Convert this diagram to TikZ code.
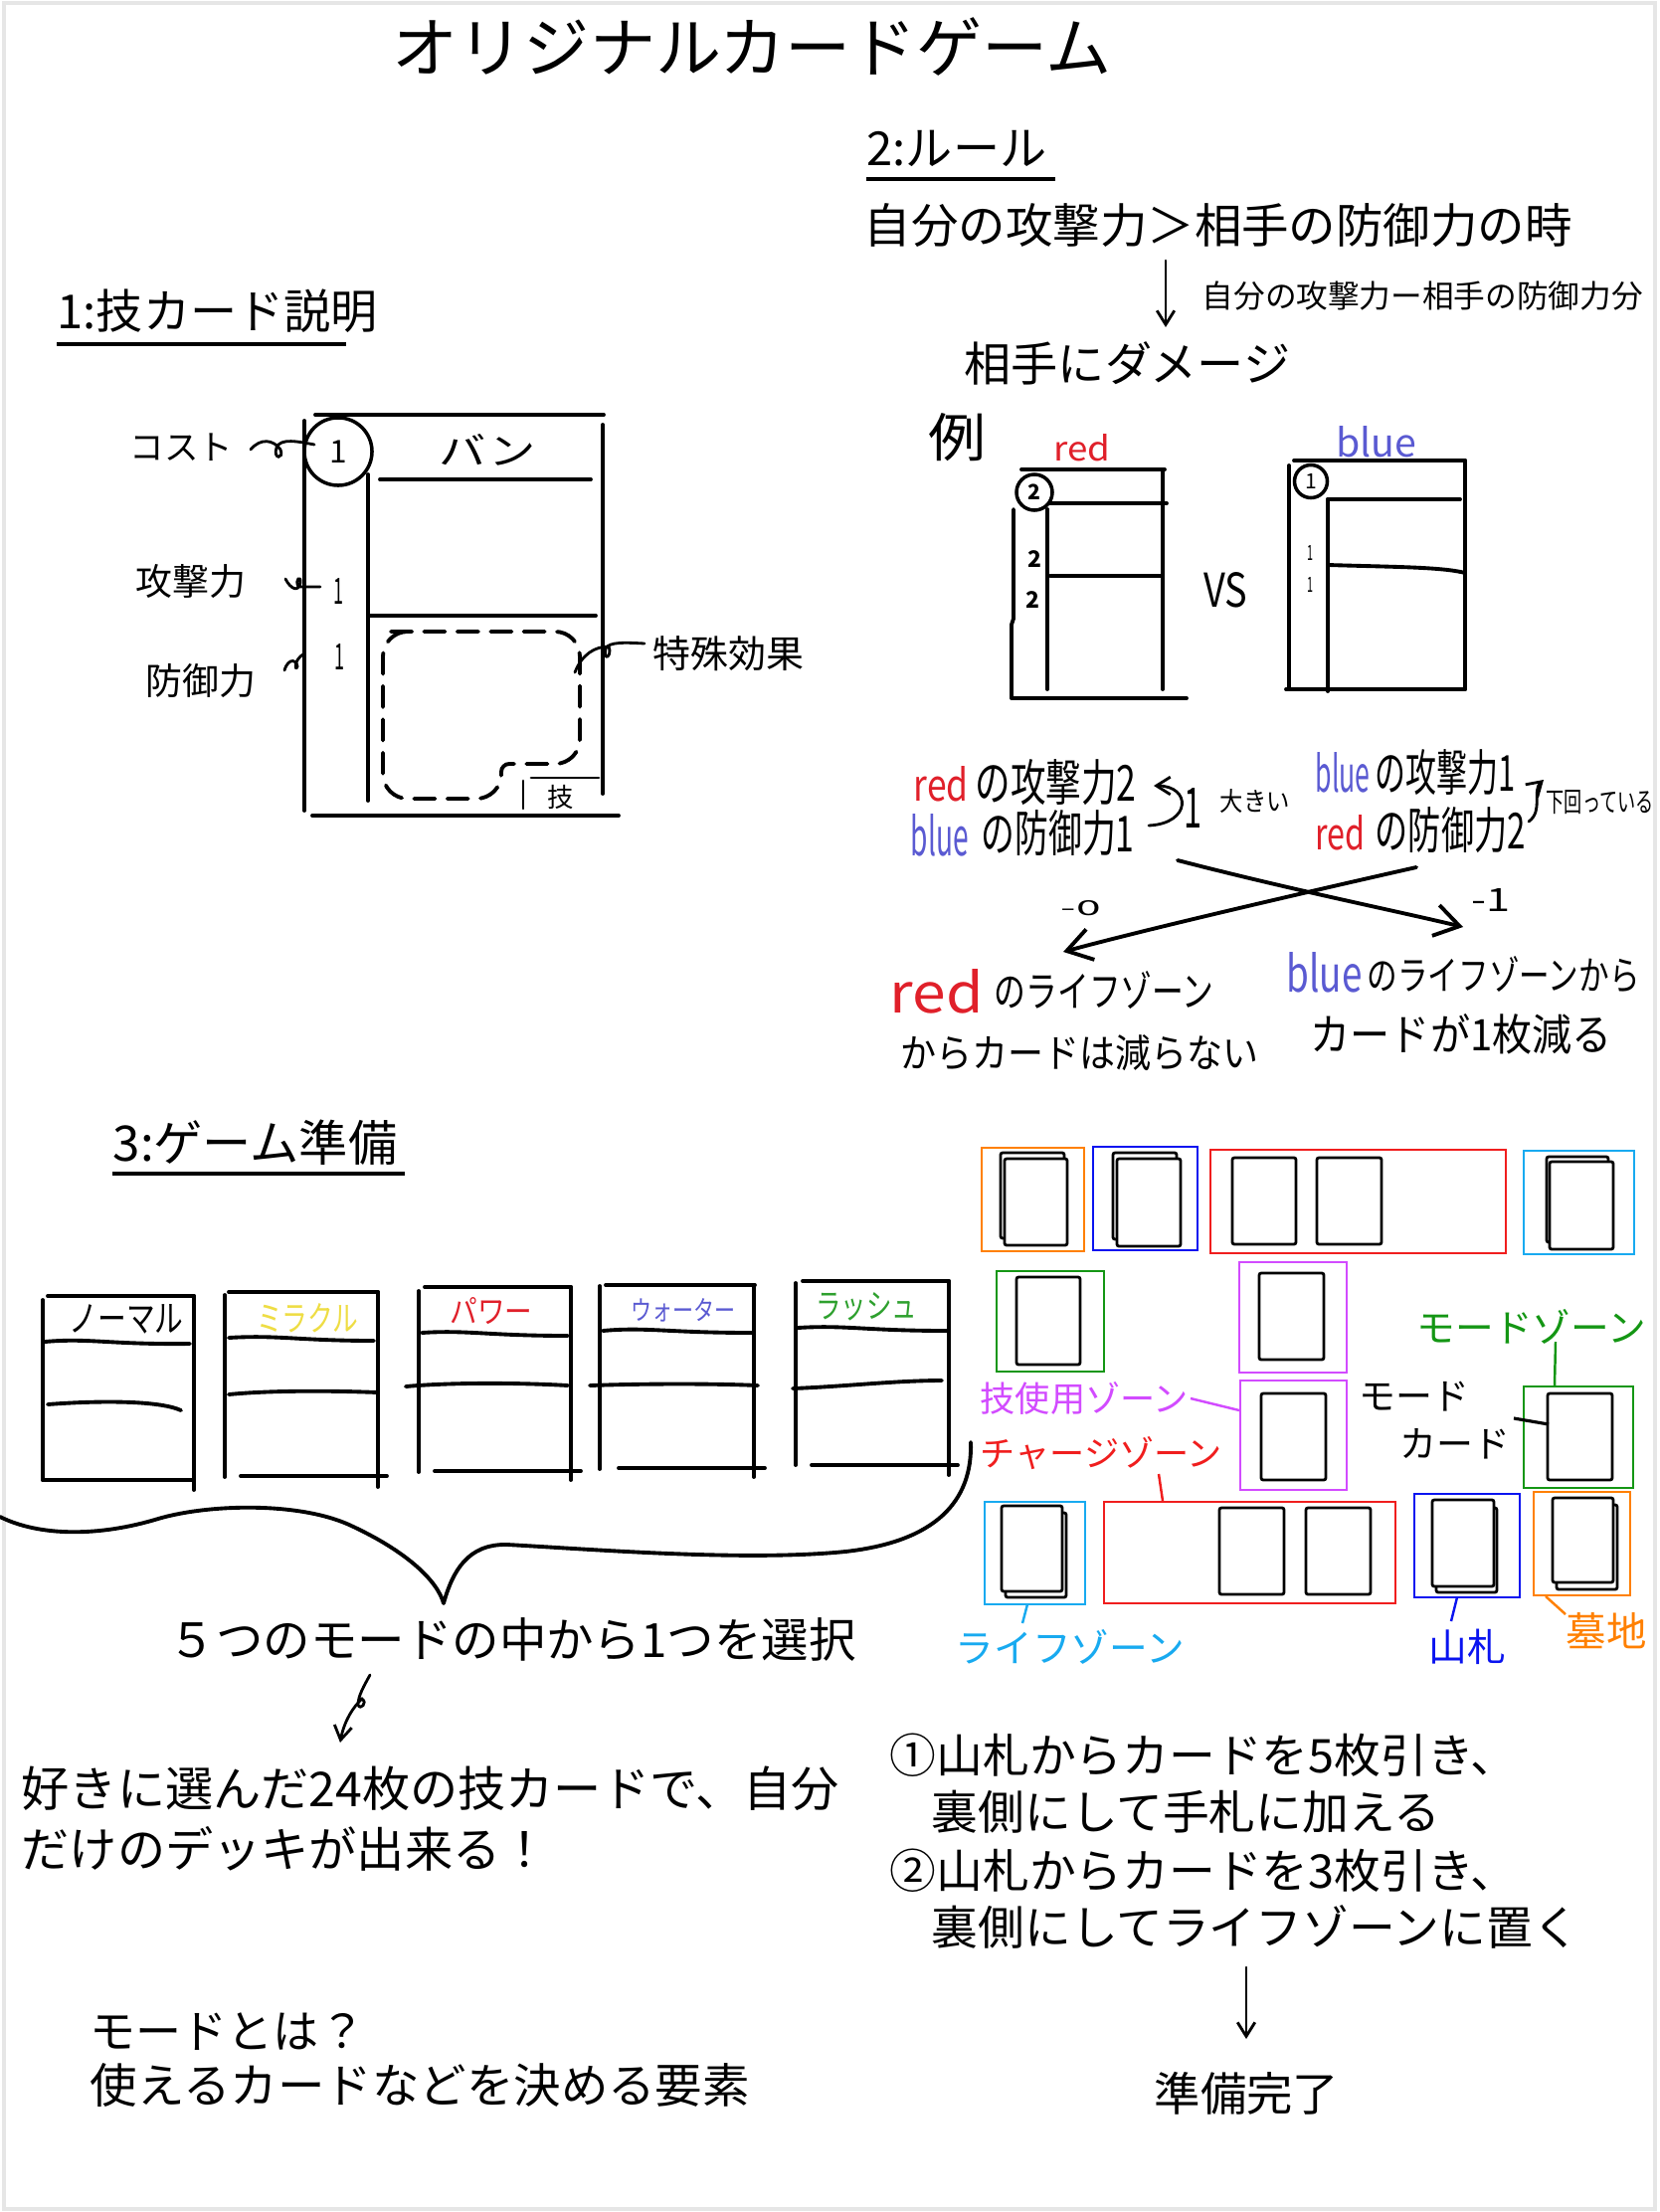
\documentclass[tikz,border=0pt]{standalone}
\usepackage{fontspec}
\setmainfont{Noto Sans CJK JP}
\usetikzlibrary{arrows.meta}
\newdimen\pxu \pxu=0.01cm
\newcommand\fsz[1]{\fontsize{#1}{#1}\selectfont}
\newcommand\rb[3]{\resizebox{#1\pxu}{#2\pxu}{#3}}
\definecolor{zorange}{HTML}{FF8000}
\definecolor{zblue}{HTML}{0A14F0}
\definecolor{zred}{HTML}{F01E1E}
\definecolor{zsky}{HTML}{18AAF0}
\definecolor{zgreen}{HTML}{149614}
\definecolor{zpurple}{HTML}{D24BFF}
\definecolor{hred}{HTML}{E0202A}
\definecolor{hblue}{HTML}{5A5AD2}
\definecolor{hyel}{HTML}{EEDD44}
\definecolor{hgreen}{HTML}{2EA02E}
\definecolor{framegray}{HTML}{E6E6E6}
\begin{document}
\begin{tikzpicture}[x=0.01cm, y=-0.01cm,
  t/.style={inner sep=0pt, anchor=west},
  tc/.style={inner sep=0pt},
  hl/.style={line width=1.1pt, line cap=round, line join=round},
  thinl/.style={line width=0.8pt, line cap=round},
  zone/.style={line width=0.7pt},
  card/.style={draw=black, fill=white, line width=0.8pt, rounded corners=0.6pt},
  barb/.style={-{Straight Barb[length=7pt,width=9pt]}},
  sbarb/.style={-{Straight Barb[length=4pt,width=5pt]}}]
\path[use as bounding box, fill=white] (0,0) rectangle (1668,2224);
\draw[framegray, line width=1.2pt] (4,3) rectangle (1664,2221);

% ---------- title ----------
\node[t, font=\fsz{18.8pt}] (title) at (394,47) {オリジナルカードゲーム};

% ---------- section 1 ----------
\node[t, font=\fsz{13.4pt}] (h1) at (57,313) {1:技カード説明};
\coordinate (h1a) at (57,346); \coordinate (h1b) at (348,346);
\draw[line width=1.3pt] (h1a) -- (h1b);

\draw[hl] (317,417) -- (607,417);
\draw[hl] (314,820) -- (622,820);
\draw[hl] (306,423) -- (306,815);
\draw[hl] (606,427) -- (606,798);
\draw[hl] (370,477) -- (370,805);
\draw[hl] (382,482) -- (594,482);
\draw[hl] (370,619) -- (599,619);
\node[draw, circle, line width=1pt, minimum size=0.68cm, inner sep=0pt, font=\fsz{9pt}] (cost) at (340,454) {1};
\node[tc] (ban) at (490,452) {\rb{97}{31}{バン}};
\node[tc] (atk1) at (340,594) {\rb{10}{26}{1}};
\node[tc] (def1) at (341,660) {\rb{10}{26}{1}};
\draw[hl, dash pattern=on 6pt off 3.5pt, rounded corners=0.25cm]
  (393,635) -- (583,635) -- (583,768) [rounded corners=0.08cm] -- (504,768) [rounded corners=0.25cm] -- (504,803) -- (385,803) -- (385,635) -- (400,635);
\coordinate (wa) at (526,785); \coordinate (wb) at (526,813);
\draw[thinl] (wa) -- (wb);
\coordinate (wc) at (534,782); \coordinate (wd) at (602,782);
\draw[thinl] (wc) -- (wd);
\node[tc, font=\fsz{7.5pt}] (waza) at (564,801) {技};

\node[t, font=\fsz{9.8pt}] (costl) at (130,450) {コスト};
\node[t, font=\fsz{10.5pt}] (atkl) at (136,585) {攻撃力};
\node[t, font=\fsz{10.5pt}] (defl) at (146,685) {防御力};
\node[t, font=\fsz{10.8pt}] (spl) at (656,657) {特殊効果};
\coordinate (c1) at (252,452); \coordinate (c2) at (316,447);
\draw[thinl] (c1) .. controls (262,440) and (275,442) .. (282,452) .. controls (286,462) and (274,462) .. (278,450) .. controls (282,440) and (300,444) .. (c2);
\coordinate (a1) at (287,582); \coordinate (a2) at (322,590);
\draw[thinl] (a1) .. controls (292,592) and (300,596) .. (302,586) .. controls (303,578) and (296,582) .. (300,590) -- (a2);
\coordinate (d1) at (286,674); \coordinate (d2) at (306,657);
\draw[thinl] (d1) .. controls (290,660) and (300,664) .. (299,670) .. controls (297,676) and (294,664) .. (d2);
\coordinate (s1) at (578,676); \coordinate (s2) at (648,647);
\draw[thinl] (s1) .. controls (585,658) and (598,650) .. (612,650) .. controls (616,660) and (606,666) .. (609,652) .. controls (612,645) and (630,646) .. (s2);

% ---------- section 2 ----------
\node[t, font=\fsz{13.4pt}] (h2) at (871,149) {2:ルール};
\coordinate (h2a) at (871,180); \coordinate (h2b) at (1061,180);
\draw[line width=1.3pt] (h2a) -- (h2b);
\node[t, font=\fsz{13.5pt}] (cond) at (868,227) {自分の攻撃力＞相手の防御力の時};
\coordinate (ar1) at (1172,262); \coordinate (ar2) at (1172,329);
\draw[thinl, sbarb] (ar1) -- (ar2);
\node[t, font=\fsz{9pt}] (calc) at (1208,298) {自分の攻撃力ー相手の防御力分};
\node[t, font=\fsz{13.4pt}] (dmg) at (969,365) {相手にダメージ};

\node[t] (rei) at (933,440) {\rb{58}{44}{例}};
\node[tc, text=hred] (redl) at (1088,450) {\rb{57}{27}{red}};
\node[tc, text=hblue] (bluel) at (1384,444) {\rb{81}{31}{blue}};
\node[tc] (vs) at (1232,593) {\rb{44}{35}{VS}};
% red card
\draw[hl] (1027,472) -- (1171,472);
\draw[hl] (1056,506) -- (1173,506);
\draw[hl] (1169,472) -- (1169,693);
\draw[hl] (1053,512) -- (1053,693);
\draw[hl] (1019,512) -- (1019,622) -- (1017,628) -- (1017,702);
\draw[hl] (1017,702) -- (1193,702);
\draw[hl] (1056,579) -- (1169,579);
\node[draw, circle, line width=1pt, minimum size=0.36cm, inner sep=0pt, font=\fsz{6pt}\bfseries] (rc) at (1040,495) {2};
\node[tc, font=\fsz{6.5pt}\bfseries] (ra) at (1040,562) {2};
\node[tc, font=\fsz{6.5pt}\bfseries] (rd) at (1038,603) {2};
% blue card
\draw[hl] (1301,463) -- (1473,463);
\draw[hl] (1296,468) -- (1296,693);
\draw[hl] (1335,502) -- (1468,502);
\draw[hl] (1335,502) -- (1335,695);
\draw[hl] (1473,463) -- (1473,693);
\draw[hl] (1335,568) .. controls (1400,570) and (1450,570) .. (1473,576);
\draw[hl] (1293,693) -- (1473,693);
\node[draw, circle, line width=1pt, minimum size=0.33cm, inner sep=0pt, font=\fsz{6pt}] (bc) at (1318,484) {1};
\node[tc] (ba) at (1317,556) {\rb{6}{15}{1}};
\node[tc] (bd) at (1317,588) {\rb{6}{15}{1}};

% comparison text
\node[t, text=hred] (r1) at (918,788) {\rb{55}{35}{red}};
\node[t] (r1b) at (980,787) {\rb{162}{42}{の攻撃力2}};
\node[t, text=hblue] (b1) at (915,840) {\rb{58}{42}{blue}};
\node[t] (b1b) at (986,838) {\rb{154}{42}{の防御力1}};
\coordinate (cu1) at (1155,830); \coordinate (cu2) at (1160,790);
\draw[thinl, sbarb] (cu1) .. controls (1198,828) and (1198,790) .. (cu2);
\node[t] (one) at (1190,812) {\rb{18}{40}{1}};
\node[t] (big) at (1226,806) {\rb{70}{22}{大きい}};
\node[t, text=hblue] (b2) at (1322,777) {\rb{55}{40}{blue}};
\node[t] (b2b) at (1382,777) {\rb{141}{42}{の攻撃力1}};
\node[t, text=hred] (r2) at (1322,837) {\rb{50}{35}{red}};
\node[t] (r2b) at (1382,835) {\rb{151}{42}{の防御力2}};
\coordinate (up1) at (1537,826); \coordinate (up2) at (1552,784);
\draw[thinl, sbarb] (up1) .. controls (1552,815) and (1540,795) .. (up2);
\node[t] (low) at (1554,807) {\rb{108}{22}{下回っている}};
\coordinate (xa1) at (1184,865); \coordinate (xa2) at (1471,932);
\coordinate (xb1) at (1424,872); \coordinate (xb2) at (1069,957);
\draw[hl, barb] (xa1) .. controls (1300,895) and (1400,915) .. (xa2);
\draw[hl, barb] (xb1) .. controls (1300,900) and (1150,935) .. (xb2);
\node[t] (m0) at (1066,913) {\rb{40}{15}{-0}};
\node[t] (m1) at (1479,905) {\rb{39}{23}{-1}};
\node[t, text=hred] (r3) at (894,997) {\rb{94}{44}{red}};
\node[t] (r3b) at (999,996) {\rb{221}{36}{のライフゾーン}};
\node[t] (r3c) at (905,1059) {\rb{360}{33}{からカードは減らない}};
\node[t, text=hblue] (b3) at (1293,978) {\rb{76}{40}{blue}};
\node[t] (b3b) at (1374,980) {\rb{274}{34}{のライフゾーンから}};
\node[t] (b3c) at (1317,1040) {\rb{303}{37}{カードが1枚減る}};

% ---------- section 3 ----------
\node[t, font=\fsz{14pt}] (h3) at (113,1149) {3:ゲーム準備};
\coordinate (h3a) at (113,1180); \coordinate (h3b) at (407,1180);
\draw[line width=1.3pt] (h3a) -- (h3b);

% mode cards
\draw[hl] (48,1303) -- (195,1303);
\draw[hl] (43,1307) -- (43,1488);
\draw[hl] (195,1303) -- (195,1498);
\draw[hl] (45,1349) .. controls (90,1345) and (110,1352) .. (191,1351);
\draw[hl] (48,1412) .. controls (100,1408) and (160,1408) .. (182,1418);
\draw[hl] (43,1488) -- (195,1488);
\node[tc] (mn) at (127,1326) {\rb{115}{28}{ノーマル}};
\draw[hl] (230,1299) -- (380,1299);
\draw[hl] (226,1302) -- (226,1485);
\draw[hl] (380,1299) -- (380,1495);
\draw[hl] (230,1345) .. controls (280,1342) and (300,1348) .. (376,1348);
\draw[hl] (230,1402) .. controls (270,1398) and (330,1398) .. (380,1400);
\draw[hl] (242,1484) -- (389,1484);
\node[tc, text=hyel] (mm) at (309,1325) {\rb{102}{28}{ミラクル}};
\draw[hl] (427,1294) -- (574,1294);
\draw[hl] (421,1298) -- (421,1480);
\draw[hl] (574,1294) -- (574,1488);
\draw[hl] (424,1340) .. controls (470,1337) and (490,1343) .. (571,1343);
\draw[hl] (408,1394) .. controls (450,1390) and (520,1390) .. (571,1393);
\draw[hl] (437,1479) -- (584,1479);
\node[tc, text=hred] (mp) at (494,1318) {\rb{83}{26}{パワー}};
\draw[hl] (609,1292) -- (759,1292);
\draw[hl] (603,1293) -- (603,1477);
\draw[hl] (758,1292) -- (758,1485);
\draw[hl] (606,1338) .. controls (650,1334) and (670,1340) .. (756,1340);
\draw[hl] (593,1393) .. controls (650,1391) and (720,1391) .. (762,1393);
\draw[hl] (622,1476) -- (769,1476);
\node[tc, text=hblue] (mw) at (687,1317) {\rb{105}{22}{ウォーター}};
\draw[hl] (807,1288) -- (954,1288);
\draw[hl] (800,1290) -- (800,1473);
\draw[hl] (954,1288) -- (954,1483);
\draw[hl] (802,1335) .. controls (850,1332) and (870,1338) .. (952,1338);
\draw[hl] (797,1396) .. controls (850,1394) and (900,1388) .. (947,1388);
\draw[hl] (816,1473) -- (963,1473);
\node[tc, text=hgreen] (mr) at (871,1314) {\rb{102}{26}{ラッシュ}};

% brace
\coordinate (br1) at (0,1525); \coordinate (br2) at (976,1450); \coordinate (brp) at (446,1612);
\draw[hl] (br1) .. controls (40,1545) and (100,1545) .. (159,1527) .. controls (210,1512) and (300,1510) .. (351,1533) .. controls (410,1560) and (440,1590) .. (brp) .. controls (455,1580) and (470,1552) .. (510,1553) .. controls (600,1558) and (750,1570) .. (850,1560) .. controls (940,1550) and (978,1510) .. (br2);

\node[t, font=\fsz{13.5pt}] (sel) at (169,1648) {５つのモードの中から1つを選択};
\coordinate (ca1) at (372,1684); \coordinate (ca2) at (342,1752);
\draw[thinl, sbarb] (ca1) .. controls (366,1695) and (360,1705) .. (360,1714) .. controls (362,1720) and (370,1712) .. (364,1708) .. controls (356,1715) and (346,1730) .. (ca2);
\node[t, font=\fsz{13.7pt}] (deck1) at (21,1798) {好きに選んだ24枚の技カードで、自分};
\node[t, font=\fsz{13.7pt}] (deck2) at (21,1859) {だけのデッキが出来る！};
\node[t, font=\fsz{13.1pt}] (mq) at (90,2043) {モードとは？};
\node[t, font=\fsz{13.5pt}] (ma) at (90,2096) {使えるカードなどを決める要素};

\node[t, font=\fsz{13.3pt}] (st1) at (894,1765) {①山札からカードを5枚引き、};
\node[t, font=\fsz{13.3pt}] (st1b) at (936,1822) {裏側にして手札に加える};
\node[t, font=\fsz{13.3pt}] (st2) at (894,1881) {②山札からカードを3枚引き、};
\node[t, font=\fsz{13.3pt}] (st2b) at (936,1937) {裏側にしてライフゾーンに置く};
\coordinate (da1) at (1253,1978); \coordinate (da2) at (1253,2050);
\draw[thinl, sbarb] (da1) -- (da2);
\node[t, font=\fsz{13.2pt}] (done) at (1160,2105) {準備完了};

% ---------- board ----------
\draw[zone, zorange] (987,1154) rectangle (1090,1258);
\draw[card] (1006,1159) rectangle (1070,1245);
\draw[card] (1010,1165) rectangle (1073,1252);
\draw[zone, zblue] (1099,1153) rectangle (1204,1257);
\draw[card] (1119,1159) rectangle (1183,1246);
\draw[card] (1123,1165) rectangle (1187,1253);
\draw[zone, zred] (1217,1156) rectangle (1514,1260);
\draw[card] (1239,1164) rectangle (1303,1251);
\draw[card] (1324,1164) rectangle (1389,1251);
\draw[zone, zsky] (1532,1157) rectangle (1643,1261);
\draw[card] (1555,1163) rectangle (1617,1249);
\draw[card] (1558,1168) rectangle (1622,1256);

\draw[zone, zgreen] (1002,1278) rectangle (1110,1379);
\draw[card] (1022,1284) rectangle (1086,1372);
\draw[zone, zpurple] (1246,1269) rectangle (1354,1380);
\draw[card] (1266,1280) rectangle (1331,1367);

\draw[zone, zpurple] (1247,1388) rectangle (1354,1498);
\draw[card] (1268,1401) rectangle (1333,1488);
\draw[zone, zgreen] (1532,1394) rectangle (1642,1496);
\draw[card] (1556,1401) rectangle (1621,1488);

\draw[zone, zsky] (990,1510) rectangle (1091,1613);
\draw[card] (1011,1521) rectangle (1072,1606);
\draw[card] (1007,1514) rectangle (1068,1600);
\draw[zone, zred] (1110,1510) rectangle (1403,1612);
\draw[card] (1226,1516) rectangle (1291,1603);
\draw[card] (1313,1516) rectangle (1378,1603);
\draw[zone, zblue] (1422,1502) rectangle (1528,1606);
\draw[card] (1444,1516) rectangle (1505,1601);
\draw[card] (1440,1508) rectangle (1502,1595);
\draw[zone, zorange] (1542,1500) rectangle (1639,1604);
\draw[card] (1565,1513) rectangle (1626,1598);
\draw[card] (1561,1506) rectangle (1622,1591);

\node[t, text=zgreen, font=\fsz{11pt}] (modez) at (1424,1334) {モードゾーン};
\node[t, text=zpurple, font=\fsz{10pt}] (wazaz) at (985,1406) {技使用ゾーン};
\node[t, text=zred, font=\fsz{10pt}] (chz) at (985,1461) {チャージゾーン};
\node[t, font=\fsz{10.5pt}] (mc1) at (1366,1404) {モード};
\node[t, font=\fsz{10.5pt}] (mc2) at (1407,1452) {カード};
\node[t, text=zsky, font=\fsz{11pt}] (lifez) at (960,1656) {ライフゾーン};
\node[t, text=zblue, font=\fsz{11pt}] (yama) at (1436,1656) {山札};
\node[t, text=zorange, font=\fsz{11.5pt}] (haka) at (1574,1640) {墓地};

\coordinate (lm1) at (1564,1349); \coordinate (lm2) at (1563,1393);
\draw[zone, zgreen] (lm1) -- (lm2);
\coordinate (lc1) at (1522,1426); \coordinate (lc2) at (1557,1432);
\draw[zone, black, line width=0.9pt] (lc1) -- (lc2);
\coordinate (lw1) at (1197,1406); \coordinate (lw2) at (1246,1418);
\draw[zone, zpurple] (lw1) -- (lw2);
\coordinate (lh1) at (1165,1482); \coordinate (lh2) at (1169,1509);
\draw[zone, zred] (lh1) -- (lh2);
\coordinate (ll1) at (1033,1613); \coordinate (ll2) at (1028,1632);
\draw[zone, zsky] (ll1) -- (ll2);
\coordinate (ly1) at (1465,1606); \coordinate (ly2) at (1459,1630);
\draw[zone, zblue] (ly1) -- (ly2);
\coordinate (lg1) at (1554,1605); \coordinate (lg2) at (1574,1623);
\draw[zone, zorange] (lg1) -- (lg2);
\end{tikzpicture}
\end{document}
